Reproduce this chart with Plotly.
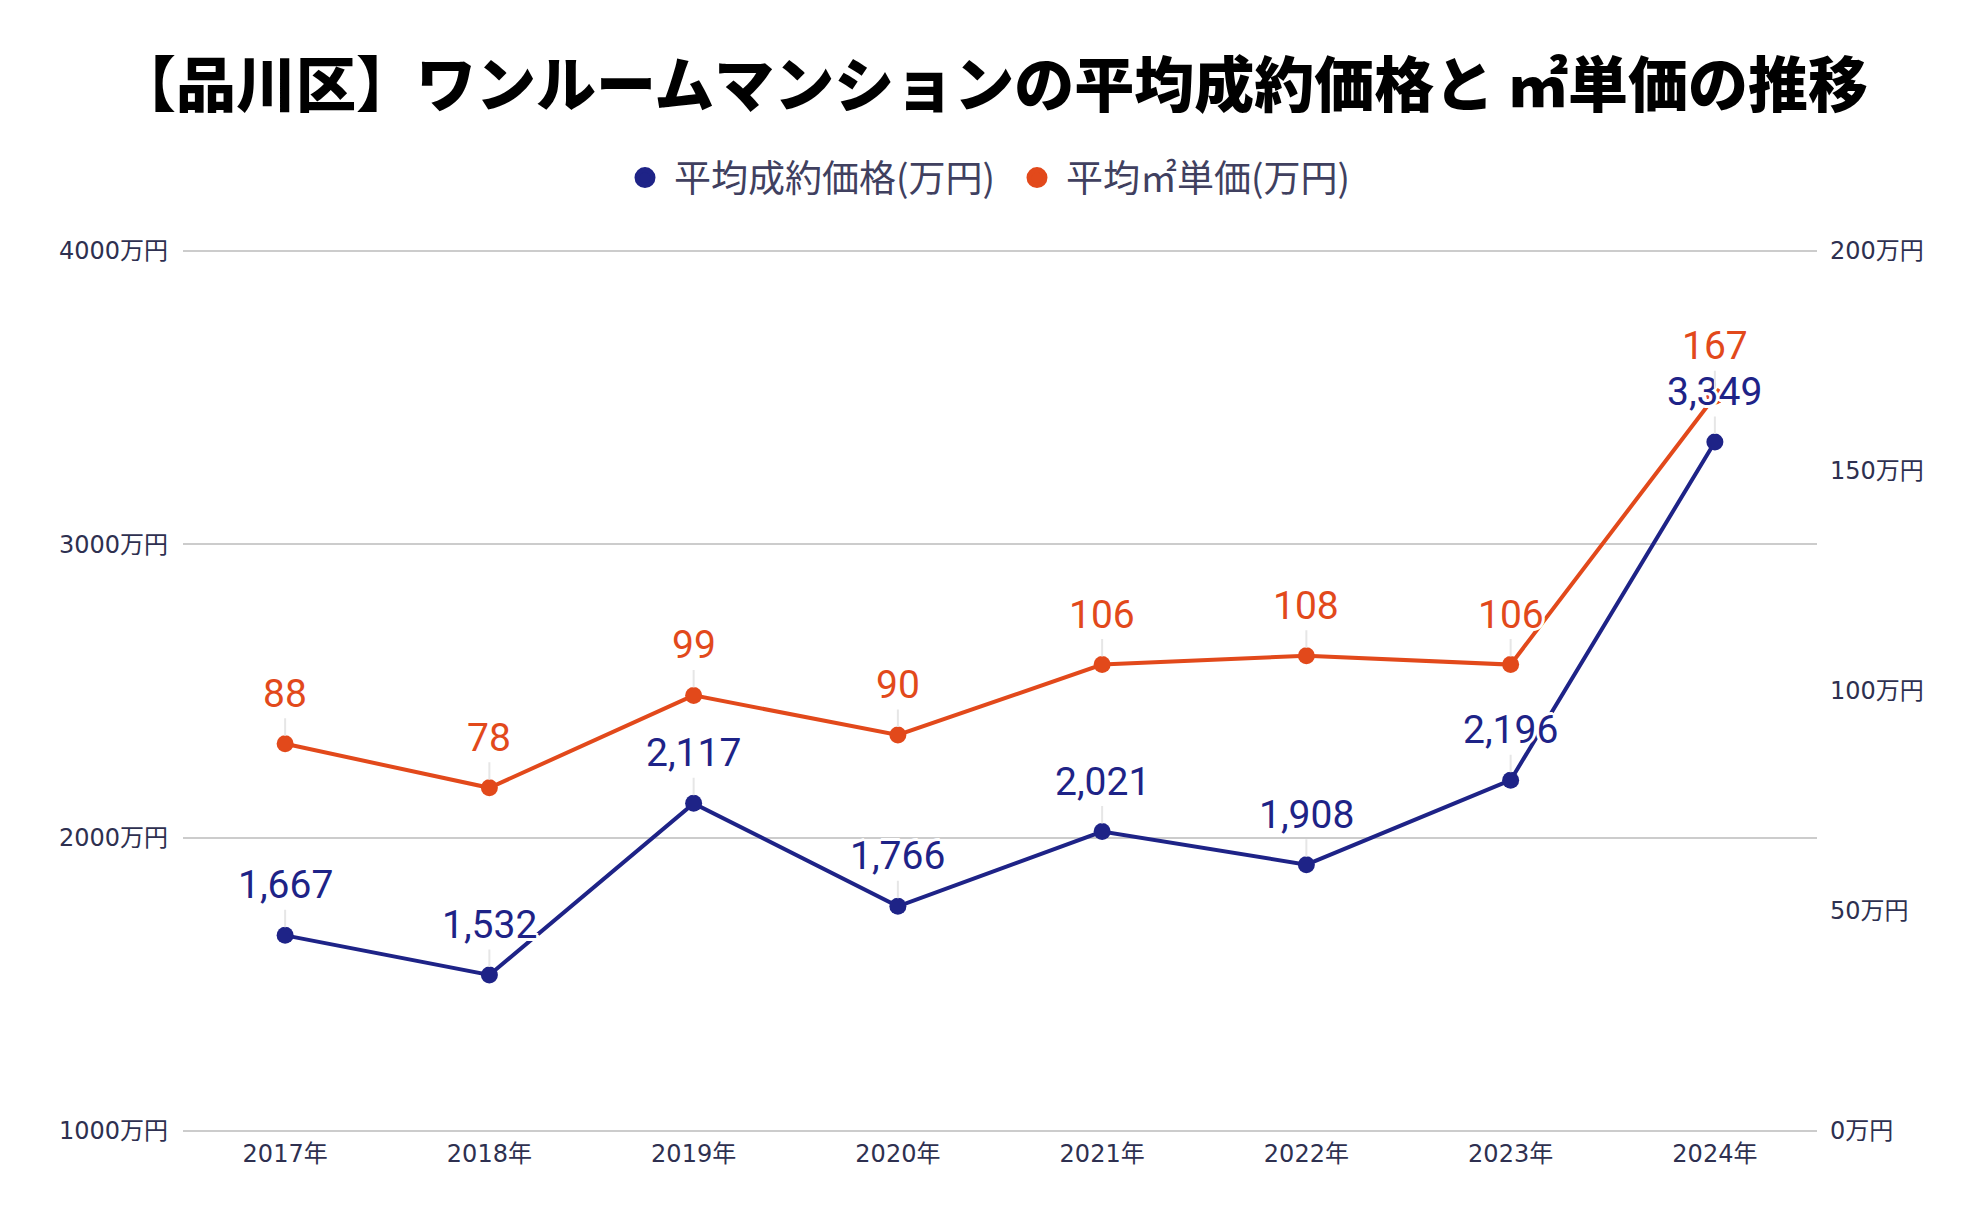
import plotly.graph_objects as go

years = ["2017年", "2018年", "2019年", "2020年", "2021年", "2022年", "2023年", "2024年"]
avg_price = [1667, 1532, 2117, 1766, 2021, 1908, 2196, 3349]
sqm_price = [88, 78, 99, 90, 106, 108, 106, 167]

left_ticks = [1000, 2000, 3000, 4000]
left_tick_text = ["1000万円", "2000万円", "3000万円", "4000万円"]
right_ticks = [0, 50, 100, 150, 200]
right_tick_text = ["0万円", "50万円", "100万円", "150万円", "200万円"]

name_price = "平均成約価格(万円)"
name_sqm = "平均㎡単価(万円)"

BLUE = "#1e2387"
ORANGE = "#e2491b"
TICK_COLOR = "#2e3050"
CJK = "Noto Sans CJK JP"
TICK_FONT = dict(family="DejaVu Sans, " + CJK, size=24, color=TICK_COLOR)
HALO = "3px 0 0 #fff, -3px 0 0 #fff, 0 3px 0 #fff, 0 -3px 0 #fff, 2px 2px 0 #fff, -2px -2px 0 #fff, 2px -2px 0 #fff, -2px 2px 0 #fff"

# figure geometry (page has an 8px body margin)
W, H = 1968, 1212
PLOT_L, PLOT_R, PLOT_T, PLOT_B = 175, 1809, 243, 1123
PAD_PX = 3  # small pad so grid lines at range ends are drawn
plot_h = PLOT_B - PLOT_T
y_lo, y_hi = left_ticks[0], left_ticks[-1]
y2_lo, y2_hi = right_ticks[0], right_ticks[-1]
pad_y = PAD_PX * (y_hi - y_lo) / plot_h
pad_y2 = PAD_PX * (y2_hi - y2_lo) / plot_h
paper_h = plot_h + 2 * PAD_PX

fig = go.Figure()

fig.add_trace(go.Scatter(
    x=years, y=avg_price, mode="lines+markers", name=name_price,
    line=dict(color=BLUE, width=4), marker=dict(color=BLUE, size=17),
    showlegend=False, yaxis="y", hoverinfo="skip",
))
fig.add_trace(go.Scatter(
    x=years, y=sqm_price, mode="lines+markers", name=name_sqm,
    line=dict(color=ORANGE, width=4), marker=dict(color=ORANGE, size=17),
    showlegend=False, yaxis="y2", hoverinfo="skip",
))
# legend entries (markers only)
fig.add_trace(go.Scatter(x=[None], y=[None], mode="markers", name=name_price,
                         marker=dict(color=BLUE, size=16, line=dict(color=BLUE, width=5))))
fig.add_trace(go.Scatter(x=[None], y=[None], mode="markers", name=name_sqm,
                         marker=dict(color=ORANGE, size=16, line=dict(color=ORANGE, width=5)),
                         yaxis="y2"))

annotations = []
for x, v in zip(years, avg_price):
    annotations.append(dict(
        x=x, y=v, xref="x", yref="y", text=f"{v:,}", showarrow=True,
        arrowhead=0, arrowwidth=2, arrowcolor="#e6e6e6", ax=0, ay=-50, standoff=8,
        font=dict(family="Roboto", size=39, color=BLUE, shadow=HALO),
    ))
for x, v in zip(years, sqm_price):
    annotations.append(dict(
        x=x, y=v, xref="x", yref="y2", text=f"{v:,}", showarrow=True,
        arrowhead=0, arrowwidth=2, arrowcolor="#e6e6e6", ax=0, ay=-50, standoff=8,
        font=dict(family="Roboto", size=39, color=ORANGE, shadow=HALO),
    ))

fig.update_layout(
    width=W, height=H,
    paper_bgcolor="white", plot_bgcolor="white",
    margin=dict(l=PLOT_L, r=W - PLOT_R, t=PLOT_T - PAD_PX, b=H - PLOT_B - PAD_PX),
    title=dict(
        text="【品川区】ワンルームマンションの平均成約価格と ㎡単価の推移",
        x=0.5, xanchor="center", y=1 - 78 / H, yanchor="middle",
        font=dict(family=CJK, size=60, color="#000000", weight=900),
    ),
    legend=dict(
        orientation="h", x=(608 - PLOT_L) / (PLOT_R - PLOT_L), xanchor="left",
        y=(PLOT_B + PAD_PX - 170) / paper_h, yanchor="middle",
        font=dict(family=CJK, size=37, color="#40405f"),
        itemwidth=48, entrywidth=329, entrywidthmode="pixels",
    ),
    xaxis=dict(
        type="category", range=[-0.5, 7.5], showgrid=False, zeroline=False,
        showline=False, ticks="", tickfont=TICK_FONT, fixedrange=True,
        ticklabelstandoff=3,
    ),
    yaxis=dict(
        range=[y_lo - pad_y, y_hi + pad_y], tickvals=left_ticks, ticktext=left_tick_text,
        showgrid=True, gridcolor="#cccccc", gridwidth=2, zeroline=False,
        showline=False, ticks="", tickfont=TICK_FONT, ticklabelstandoff=14,
    ),
    yaxis2=dict(
        range=[y2_lo - pad_y2, y2_hi + pad_y2], tickvals=right_ticks, ticktext=right_tick_text,
        overlaying="y", side="right", showgrid=False, zeroline=False,
        showline=False, ticks="", tickfont=TICK_FONT, ticklabelstandoff=12,
    ),
    annotations=annotations,
    hovermode=False,
)

fig.write_html("out.html")
